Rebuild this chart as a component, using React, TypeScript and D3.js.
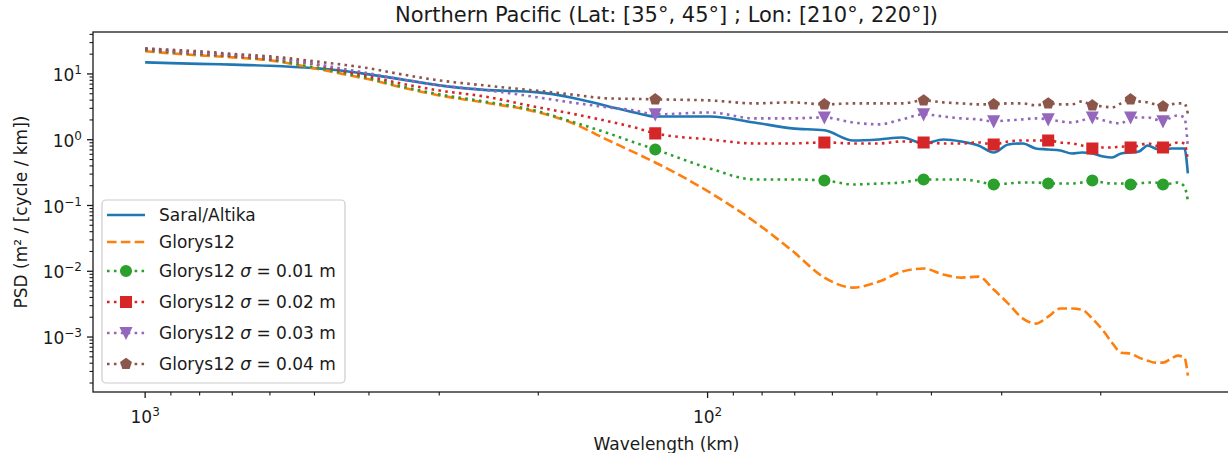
import React, { useEffect, useRef } from "react";
import * as d3 from "d3";

// wavelengths (km) of the plotted spectrum samples
const wavelength = [1000, 900, 800, 700, 600, 500, 450, 400, 350, 300, 250, 200, 175, 150, 135, 123.9, 99.1, 82.6, 70.8, 62.0, 55.1, 49.6, 45.1, 41.3, 38.1, 35.4, 33.0, 31.0, 29.2, 27.5, 26.1, 24.8, 23.6, 22.5, 21.6, 20.7, 19.8, 19.1, 18.4, 17.7, 17.1, 16.5, 16.0, 15.5, 15.0, 14.6, 14.2, 14.0];

const saral = [15.0, 14.6, 14.25, 13.85, 13.3, 12.2, 11.3, 9.86, 8.28, 6.71, 5.73, 5.25, 4.40, 3.21, 2.60, 2.26, 2.26, 1.83, 1.49, 1.39, 0.976, 1.01, 1.08, 0.878, 1.01, 0.942, 0.819, 0.641, 0.848, 0.878, 0.737, 0.712, 0.687, 0.619, 0.641, 0.619, 0.557, 0.538, 0.619, 0.641, 0.664, 0.819, 0.737, 0.687, 0.737, 0.737, 0.737, 0.307];

const glorys = [22.1, 20.6, 19.2, 17.9, 16.1, 12.2, 10.2, 8.28, 6.25, 4.72, 3.70, 2.60, 1.83, 0.976, 0.641, 0.451, 0.158, 0.0571, 0.0207, 0.00802, 0.00565, 0.00697, 0.00990, 0.0110, 0.00891, 0.00802, 0.00830, 0.00527, 0.00322, 0.00191, 0.00160, 0.00204, 0.00271, 0.00271, 0.00261, 0.00191, 0.00125, 0.000822, 0.000579, 0.000559, 0.000486, 0.000437, 0.000408, 0.000408, 0.000469, 0.000521, 0.000486, 0.000259];

const glorys001 = [22.9, 21.3, 19.9, 18.5, 16.4, 12.6, 10.6, 8.57, 6.48, 4.89, 3.83, 2.70, 1.90, 1.25, 0.910, 0.712, 0.366, 0.249, 0.249, 0.240, 0.209, 0.216, 0.224, 0.249, 0.249, 0.249, 0.232, 0.209, 0.216, 0.224, 0.224, 0.216, 0.216, 0.216, 0.224, 0.240, 0.224, 0.216, 0.216, 0.209, 0.216, 0.224, 0.224, 0.209, 0.216, 0.224, 0.195, 0.119];

const glorys002 = [23.7, 22.1, 20.6, 18.9, 17.0, 14.0, 11.3, 9.16, 7.13, 5.6, 4.56, 3.10, 2.51, 1.90, 1.54, 1.25, 1.01, 0.878, 0.878, 0.910, 0.878, 0.878, 0.942, 0.910, 0.878, 0.878, 0.910, 0.848, 0.942, 0.976, 0.976, 0.976, 0.910, 0.878, 0.819, 0.737, 0.763, 0.763, 0.791, 0.763, 0.819, 0.878, 0.819, 0.763, 0.848, 0.910, 0.878, 0.484];

const glorys003 = [24.1, 22.5, 20.95, 19.5, 17.6, 14.25, 12.2, 10.2, 8.28, 6.71, 5.73, 4.40, 3.70, 3.10, 2.79, 2.43, 2.60, 2.11, 2.11, 2.18, 1.83, 1.71, 2.04, 2.43, 2.26, 2.11, 2.04, 1.90, 1.97, 2.04, 2.11, 2.04, 1.90, 1.83, 1.97, 2.18, 1.97, 1.83, 1.77, 2.18, 2.18, 2.18, 2.04, 1.90, 2.18, 2.34, 2.18, 0.763];

const glorys004 = [24.5, 23.3, 22.1, 20.2, 18.5, 15.6, 14.0, 12.2, 9.86, 7.99, 6.71, 5.53, 4.88, 4.25, 4.18, 4.11, 3.96, 3.57, 3.70, 3.45, 3.57, 3.57, 3.57, 3.96, 3.70, 3.57, 3.45, 3.45, 3.57, 3.57, 3.33, 3.57, 3.45, 3.45, 3.83, 3.33, 3.21, 3.10, 3.57, 4.11, 3.83, 3.70, 3.45, 3.21, 3.45, 3.57, 3.57, 2.51];

// wavelengths where the noisy series carry a marker
const markerWavelengths = [123.9, 62.0, 41.3, 31.0, 24.8, 20.7, 17.7, 15.5];

const xMajorTicks = [1000, 100];
const yMajorTicks = [10, 1, 0.1, 0.01, 0.001];

const series = [
  { label: "Saral/Altika", sigma: "", values: saral, color: "#1f77b4", style: "solid", marker: "" },
  { label: "Glorys12", sigma: "", values: glorys, color: "#ff7f0e", style: "dashed", marker: "" },
  { label: "Glorys12", sigma: "0.01", values: glorys001, color: "#2ca02c", style: "dotted", marker: "circle" },
  { label: "Glorys12", sigma: "0.02", values: glorys002, color: "#d62728", style: "dotted", marker: "square" },
  { label: "Glorys12", sigma: "0.03", values: glorys003, color: "#9467bd", style: "dotted", marker: "triangle" },
  { label: "Glorys12", sigma: "0.04", values: glorys004, color: "#8c564b", style: "dotted", marker: "pentagon" },
];

const W = 1228, H = 453;
const left = 93, right = 1240, top = 32, bottom = 392;
const font = "DejaVu Sans";
const ink = "#1a1a1a";
const lw = 2.6;
const ms = 10.4;

function markerPath(kind: string) {
  const r = ms / 2;
  if (kind === "circle") return d3.symbol(d3.symbolCircle, Math.PI * r * r)()!;
  if (kind === "square") return `M${-r},${-r}H${r}V${r}H${-r}Z`;
  if (kind === "triangle") return `M0,${r}L${-r},${-r}L${r},${-r}Z`;
  const pts = d3.range(5).map(k => {
    const a = -Math.PI / 2 + (k * 2 * Math.PI) / 5;
    return [r * Math.cos(a), r * Math.sin(a)];
  });
  return "M" + pts.map(p => p.join(",")).join("L") + "Z";
}

function dashFor(style: string) {
  if (style === "dashed") return "9.6 4.2";
  if (style === "dotted") return "2.6 4.3";
  return null;
}

export default function App() {
  const ref = useRef<SVGSVGElement>(null);

  useEffect(() => {
    const svg = d3.select(ref.current);
    svg.selectAll("*").remove();

    // log-axis autoscale with 5% margins, like matplotlib
    const lx = wavelength.map(Math.log10);
    const xmin = d3.min(lx)!, xmax = d3.max(lx)!;
    const mx = (xmax - xmin) * 0.05;
    const x = d3.scaleLog().domain([10 ** (xmax + mx), 10 ** (xmin - mx)]).range([left, right]);

    const ly = series.flatMap(s => s.values).map(Math.log10);
    const ymin = d3.min(ly)!, ymax = d3.max(ly)!;
    const my = (ymax - ymin) * 0.05;
    const y = d3.scaleLog().domain([10 ** (ymin - my), 10 ** (ymax + my)]).range([bottom, top]);

    svg.append("rect").attr("width", W).attr("height", H).attr("fill", "white");

    svg.append("defs").append("clipPath").attr("id", "plot")
      .append("rect").attr("x", left).attr("y", top).attr("width", right - left).attr("height", bottom - top);

    const plot = svg.append("g").attr("clip-path", "url(#plot)");
    const line = d3.line<number>().x((_, i) => x(wavelength[i])).y(d => y(d)).curve(d3.curveMonotoneX);

    series.forEach(s => {
      plot.append("path")
        .attr("d", line(s.values))
        .attr("fill", "none")
        .attr("stroke", s.color)
        .attr("stroke-width", lw)
        .attr("stroke-linejoin", "round")
        .attr("stroke-dasharray", dashFor(s.style));
      if (s.marker) {
        const idx = wavelength.map((w, i) => (markerWavelengths.includes(w) ? i : -1)).filter(i => i >= 0);
        plot.selectAll(null).data(idx).join("path")
          .attr("d", markerPath(s.marker))
          .attr("transform", i => `translate(${x(wavelength[i])},${y(s.values[i])})`)
          .attr("fill", s.color)
          .attr("stroke", s.color)
          .attr("stroke-width", 1.7)
          .attr("stroke-linejoin", "miter");
      }
    });

    // spines
    svg.append("rect").attr("x", left).attr("y", top).attr("width", right - left).attr("height", bottom - top)
      .attr("fill", "none").attr("stroke", ink).attr("stroke-width", 1.3);

    const axes = svg.append("g").attr("stroke", ink);
    // x ticks
    const [xd0, xd1] = x.domain();
    const xMinor: number[] = [];
    for (let e = 0; e <= 4; e++) for (let k = 2; k <= 9; k++) {
      const v = k * 10 ** e;
      if (v <= xd0 && v >= xd1) xMinor.push(v);
    }
    axes.selectAll(null).data(xMinor).join("line")
      .attr("x1", d => x(d)).attr("x2", d => x(d)).attr("y1", bottom).attr("y2", bottom + 3.5).attr("stroke-width", 1.1);
    axes.selectAll(null).data(xMajorTicks).join("line")
      .attr("x1", d => x(d)).attr("x2", d => x(d)).attr("y1", bottom).attr("y2", bottom + 6).attr("stroke-width", 1.3);

    // y ticks
    const [yd0, yd1] = y.domain();
    const yMinor: number[] = [];
    for (let e = -5; e <= 2; e++) for (let k = 2; k <= 9; k++) {
      const v = k * 10 ** e;
      if (v >= yd0 && v <= yd1) yMinor.push(v);
    }
    axes.selectAll(null).data(yMinor).join("line")
      .attr("y1", d => y(d)).attr("y2", d => y(d)).attr("x1", left).attr("x2", left - 3.5).attr("stroke-width", 1.1);
    axes.selectAll(null).data(yMajorTicks).join("line")
      .attr("y1", d => y(d)).attr("y2", d => y(d)).attr("x1", left).attr("x2", left - 6).attr("stroke-width", 1.3);

    const txt = svg.append("g").attr("font-family", font).attr("fill", ink);
    const exp = (v: number) => String(Math.round(Math.log10(v))).replace("-", "\u2212");

    xMajorTicks.forEach(v => {
      const t = txt.append("text").attr("x", x(v)).attr("y", bottom + 31).attr("font-size", 17).attr("text-anchor", "middle");
      t.append("tspan").text("10");
      t.append("tspan").attr("dy", -7).attr("font-size", 12).text(exp(v));
    });
    yMajorTicks.forEach(v => {
      const t = txt.append("text").attr("x", left - 11).attr("y", y(v) + 7).attr("font-size", 17).attr("text-anchor", "end");
      t.append("tspan").text("10");
      t.append("tspan").attr("dy", -7).attr("font-size", 12).text(exp(v));
    });

    txt.append("text").attr("x", (left + right) / 2).attr("y", 22).attr("font-size", 21).attr("text-anchor", "middle")
      .text("Northern Pacific (Lat: [35°, 45°] ; Lon: [210°, 220°])");
    txt.append("text").attr("x", (left + right) / 2).attr("y", 450).attr("font-size", 17).attr("text-anchor", "middle")
      .text("Wavelength (km)");
    txt.append("text").attr("transform", `translate(27,${(top + bottom) / 2}) rotate(-90)`)
      .attr("font-size", 17).attr("text-anchor", "middle").text("PSD (m² / [cycle / km])");

    // legend
    const lg = svg.append("g");
    lg.append("rect").attr("x", 102).attr("y", 200).attr("width", 243).attr("height", 183).attr("rx", 4)
      .attr("fill", "white").attr("fill-opacity", 0.8).attr("stroke", "#cccccc").attr("stroke-width", 1.2);
    let base = 221;
    series.forEach((s, i) => {
      if (i > 0) base += s.sigma ? (series[i - 1].sigma ? 31 : 29) : 27;
      const cy = base - 6;
      lg.append("line").attr("x1", 107).attr("x2", 145).attr("y1", cy).attr("y2", cy)
        .attr("stroke", s.color).attr("stroke-width", lw).attr("stroke-dasharray", dashFor(s.style));
      if (s.marker) {
        lg.append("path").attr("d", markerPath(s.marker)).attr("transform", `translate(126,${cy})`)
          .attr("fill", s.color).attr("stroke", s.color).attr("stroke-width", 1.7);
      }
      const t = lg.append("text").attr("x", 159).attr("y", base).attr("font-family", font).attr("font-size", 17).attr("fill", ink);
      t.append("tspan").text(s.label + (s.sigma ? " " : ""));
      if (s.sigma) {
        t.append("tspan").attr("font-style", "italic").text("σ");
        t.append("tspan").text(` = ${s.sigma} m`);
      }
    });
  }, []);

  return <svg ref={ref} width={W} height={H} style={{ position: "absolute", left: 0, top: 0 }} />;
}
